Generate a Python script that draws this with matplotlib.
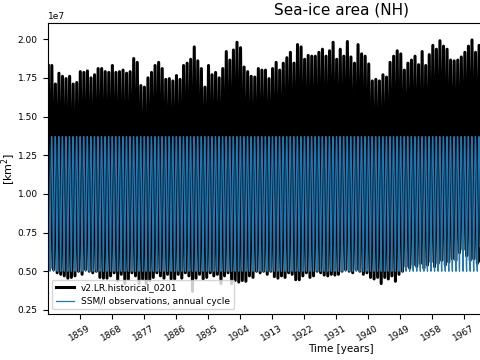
import numpy as np
import matplotlib
matplotlib.use('Agg')
import matplotlib.pyplot as plt

# annual maxima / minima of the model run (units of 1e7 km^2), 1850 onwards
years = np.arange(1850, 1974)
max_area = [1.83, 1.83, 1.71, 1.78, 1.76, 1.745, 1.76, 1.71, 1.72, 1.79,
            1.785, 1.795, 1.75, 1.77, 1.81, 1.81, 1.79, 1.785, 1.83, 1.785,
            1.79, 1.80, 1.78, 1.79, 1.875, 1.85, 1.70, 1.69, 1.75, 1.785,
            1.83, 1.85, 1.81, 1.74, 1.745, 1.73, 1.765, 1.74, 1.83, 1.845,
            1.87, 1.95, 1.86, 1.81, 1.69, 1.83, 1.77, 1.785, 1.75, 1.81,
            1.92, 1.865, 1.93, 1.98, 1.945,
            1.82, 1.79, 1.76, 1.755, 1.81, 1.80, 1.80, 1.745, 1.81, 1.85,
            1.80, 1.845, 1.88, 1.915, 1.845, 1.965, 1.95, 1.87, 1.895, 1.89,
            1.89, 1.915, 1.935, 1.89, 1.925, 1.98, 1.87, 1.935, 1.89, 1.985,
            1.885, 1.845, 1.965, 1.905, 1.89, 1.84, 1.73, 1.74, 1.73, 1.77,
            1.755, 1.85, 1.89, 1.925, 1.905, 1.80, 1.845, 1.865, 1.89, 1.835,
            1.92, 1.83, 1.90, 1.96, 1.935, 1.99, 1.955, 1.935, 1.865, 1.86,
            1.865, 1.885, 1.915, 1.955, 1.995, 1.915, 1.96, 1.905, 1.89]
min_area = [0.52, 0.51, 0.49, 0.48, 0.47, 0.455, 0.46, 0.47, 0.50, 0.48,
            0.51, 0.50, 0.49, 0.50, 0.46, 0.455, 0.455, 0.47, 0.49, 0.44,
            0.48, 0.42, 0.45, 0.49, 0.47, 0.42, 0.45, 0.42, 0.44, 0.46,
            0.49, 0.47, 0.455, 0.48, 0.45, 0.45, 0.48, 0.455, 0.49, 0.47,
            0.37, 0.455, 0.48, 0.45, 0.46, 0.49, 0.47, 0.48, 0.42, 0.47,
            0.49, 0.42, 0.44, 0.43, 0.44, 0.435, 0.47, 0.46, 0.50, 0.49,
            0.50, 0.48, 0.50, 0.465, 0.455, 0.47, 0.46, 0.49, 0.48, 0.445,
            0.445, 0.47, 0.49, 0.46, 0.47, 0.50, 0.49, 0.475, 0.47, 0.48,
            0.475, 0.48, 0.50, 0.51, 0.50, 0.49, 0.51, 0.50, 0.48, 0.49,
            0.46, 0.45, 0.46, 0.42, 0.46, 0.45, 0.47, 0.435, 0.48, 0.50,
            0.53, 0.52, 0.54, 0.53, 0.55, 0.52, 0.54, 0.56, 0.53, 0.55,
            0.57, 0.54, 0.56, 0.58, 0.57, 0.62, 0.64, 0.60, 0.57, 0.58,
            0.55, 0.56, 0.55, 0.56]

# SSM/I monthly climatology (1e7 km^2), Jan..Dec
obs_clim = [1.28, 1.37, 1.37, 1.30, 1.15, 0.96, 0.72, 0.53, 0.50, 0.68, 0.93, 1.13]
obs_years = np.arange(1850, 2015)

# model: peak in March, trough in September
t_model = np.ravel(np.column_stack([years + 2.5 / 12, years + 8.5 / 12]))
v_model = np.ravel(np.column_stack([max_area, min_area])) * 1e7

months = (np.arange(12) + 0.5) / 12
t_obs = np.ravel(obs_years[:, None] + months[None, :])
v_obs = np.tile(obs_clim, len(obs_years)) * 1e7

fig = plt.figure(figsize=(4.8, 3.6), dpi=100)
# axes run past the right edge of the figure, as in the original
ax = fig.add_axes([0.099, 0.128, 1.224, 0.8075])
ax.plot(t_model, v_model, color='black', lw=2.2, label='v2.LR.historical_0201')
ax.plot(t_obs, v_obs, color='tab:blue', lw=0.9, label='SSM/I observations, annual cycle')
ax.set_xlim(1850, 2015)
ax.set_ylim(0.224e7, 2.103e7)
ax.set_yticks(np.arange(0.25, 2.01, 0.25) * 1e7)
ax.set_xticks(np.arange(1859, 1968, 9))
ax.tick_params(labelsize=6.5)
ax.yaxis.get_offset_text().set_fontsize(6.5)
for lab in ax.get_xticklabels():
    lab.set_rotation(30)
ax.set_xlabel('Time [years]', fontsize=7.5, labelpad=1)
ax.set_ylabel('[km$^2$]', fontsize=8)
ax.yaxis.set_label_coords(-0.051, 0.5)
ax.set_title('Sea-ice area (NH)', fontsize=11)
ax.legend(loc='lower left', fontsize=6.5)
fig.savefig('out.png', dpi=100)
